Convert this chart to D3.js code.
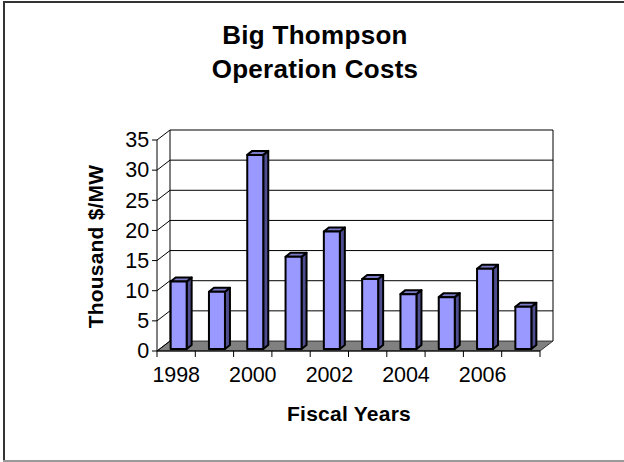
<!DOCTYPE html>
<html><head><meta charset="utf-8">
<script src="https://cdn.jsdelivr.net/npm/d3@7"></script>
<style>html,body{margin:0;padding:0;background:#fff}svg{display:block}text{font-family:"Liberation Sans",Arial,sans-serif;fill:#000}</style>
</head><body><svg id="c" width="624" height="462"></svg>
<script>
const years=[1998,1999,2000,2001,2002,2003,2004,2005,2006,2007];
const costs=[11.2,9.5,32.2,15.3,19.5,11.6,9.1,8.6,13.3,7.0];
const yTicks=[0,5,10,15,20,25,30,35];
const xLabels=[1998,2000,2002,2004,2006];
const titleLines=["Big Thompson","Operation Costs"];
const svg=d3.select("#c");
const x=d3.scaleBand().domain(years).range([157,540]);
const y=d3.scaleLinear().domain([0,35]).range([351,140]);
const dx=13,dy=-10,bx=3,by=-2;
const barW=16,sx=5,sy=-4;
// frame
svg.append("path").attr("d","M4,462V2H624").attr("fill","none").attr("stroke","#333").attr("stroke-width",2);
svg.append("path").attr("d","M3,461H624").attr("stroke","#999").attr("stroke-width",2);
// floor
const x0=157,x1=540,y0=y(0);
svg.append("path").attr("d",`M${x0},${y0}L${x0+dx},${y0+dy}H${x1+dx}L${x1},${y0}Z`).attr("fill","#808080").attr("stroke","#000").attr("stroke-width",.7);
// walls
svg.selectAll("line.g").data(yTicks.slice(1)).join("line").attr("x1",x0+dx).attr("x2",x1+dx).attr("y1",d=>y(d)+dy).attr("y2",d=>y(d)+dy).attr("stroke","#000").attr("stroke-width",1);
svg.selectAll("line.d").data(yTicks).join("line").attr("x1",x0).attr("x2",x0+dx).attr("y1",d=>y(d)).attr("y2",d=>y(d)+dy).attr("stroke","#000");
svg.append("line").attr("x1",x0+dx).attr("x2",x0+dx).attr("y1",y(35)+dy).attr("y2",y0+dy).attr("stroke","#000").attr("stroke-width",1);
svg.append("line").attr("x1",x1+dx).attr("x2",x1+dx).attr("y1",y(35)+dy).attr("y2",y0+dy).attr("stroke","#000").attr("stroke-width",1);
// axes
svg.append("line").attr("x1",x0).attr("x2",x0).attr("y1",y(35)).attr("y2",y0).attr("stroke","#000");
svg.append("line").attr("x1",x0).attr("x2",x1).attr("y1",y0).attr("y2",y0).attr("stroke","#000");
svg.selectAll("line.t").data(yTicks).join("line").attr("x1",x0-5).attr("x2",x0).attr("y1",d=>y(d)).attr("y2",d=>y(d)).attr("stroke","#000");
const edges=years.map(d=>x(d)).concat([x1]);
svg.selectAll("line.c").data(edges).join("line").attr("x1",d=>d).attr("x2",d=>d).attr("y1",y0).attr("y2",y0+6).attr("stroke","#000");
// bars
const g=svg.append("g").attr("stroke","#000").attr("stroke-width",2).attr("stroke-linejoin","round");
years.forEach((yr,i)=>{
  const l=x(yr)+(x.bandwidth()-barW)/2+bx-0.5,r=l+barW,b=y(0)+by,t=y(costs[i])+by;
  g.append("path").attr("d",`M${r},${t}L${r+sx},${t+sy}V${b+sy}L${r},${b}Z`).attr("fill","#4d4d8f");
  g.append("path").attr("d",`M${l},${t}L${l+sx},${t+sy}H${r+sx}L${r},${t}Z`).attr("fill","#7a7ac6");
  g.append("rect").attr("x",l).attr("y",t).attr("width",barW).attr("height",b-t).attr("fill","#9999ff");
});
// labels
svg.selectAll("text.y").data(yTicks).join("text").attr("x",149).attr("y",d=>y(d)+7.3).attr("text-anchor","end").attr("font-size",21.5).attr("letter-spacing",-0.1).text(d=>d);
svg.selectAll("text.x").data(xLabels).join("text").attr("x",d=>x(d)+x.bandwidth()/2).attr("y",382).attr("text-anchor","middle").attr("font-size",21.5).attr("letter-spacing",-0.1).text(d=>d);
svg.selectAll("text.ti").data(titleLines).join("text").attr("x",315).attr("y",(d,i)=>44+i*34).attr("text-anchor","middle").attr("font-size",26).attr("font-weight","bold").attr("letter-spacing",0.3).text(d=>d);
svg.append("text").attr("x",349).attr("y",421).attr("text-anchor","middle").attr("font-size",21).attr("font-weight","bold").attr("letter-spacing",0.25).text("Fiscal Years");
svg.append("text").attr("transform","translate(103,246.5) rotate(-90)").attr("text-anchor","middle").attr("font-size",21).attr("font-weight","bold").attr("letter-spacing",0.2).text("Thousand $/MW");
</script></body></html>
